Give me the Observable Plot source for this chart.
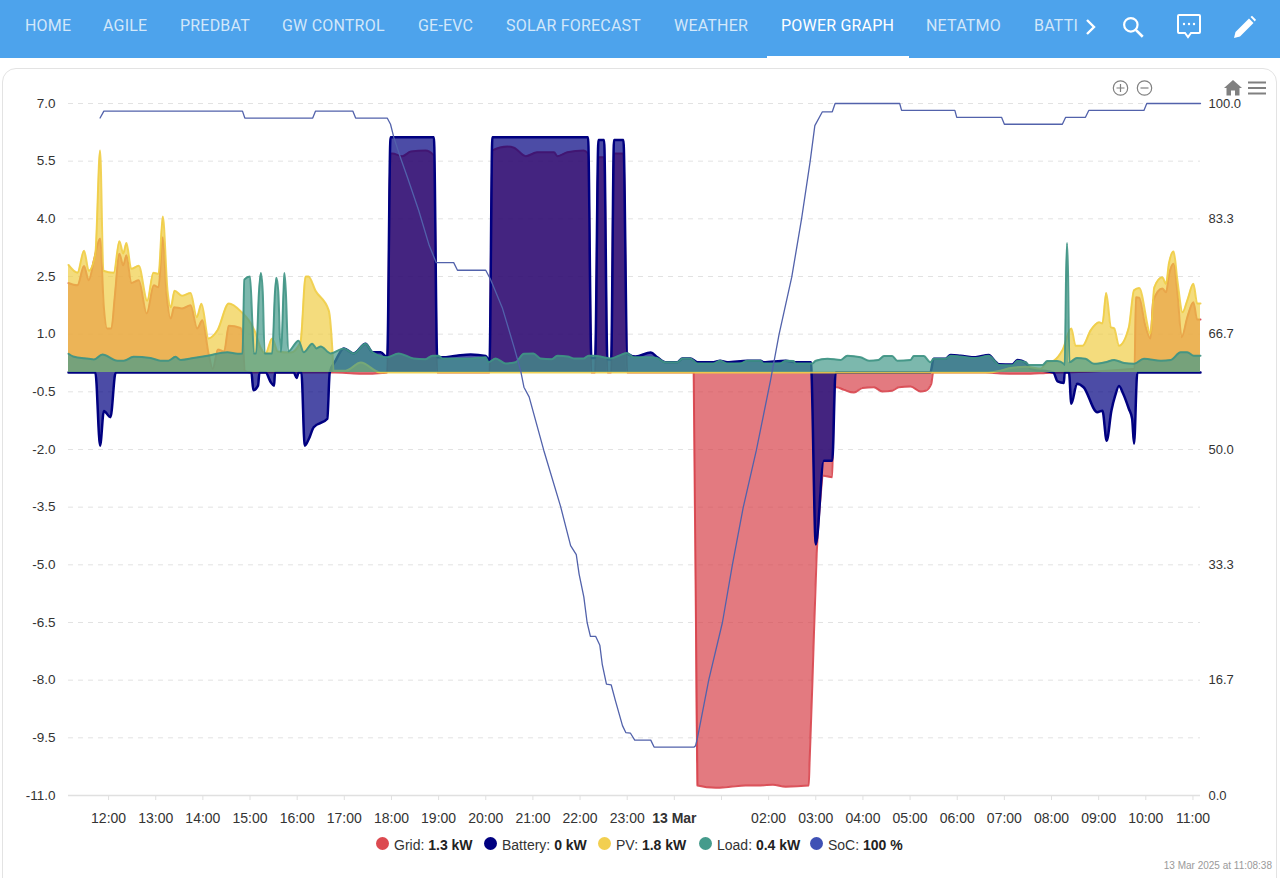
<!DOCTYPE html>
<html><head><meta charset="utf-8">
<script src="https://cdn.jsdelivr.net/npm/d3@7"></script>
<script src="https://cdn.jsdelivr.net/npm/@observablehq/plot@0.6"></script>
<style>
html,body{margin:0;padding:0;background:#fff;width:1280px;height:878px;overflow:hidden;font-family:"Liberation Sans",Arial,sans-serif}
#nav{position:absolute;left:0;top:0;width:1280px;height:58px;background:#4da3ec;overflow:hidden}
#tabs{position:absolute;left:0;top:0;width:1080px;height:58px;overflow:hidden}
#tabs span{position:absolute;top:16px;font:400 16px/20px Roboto,sans-serif;color:rgba(255,255,255,.75);white-space:nowrap;letter-spacing:.2px}
#tabs span.on{color:#fff}
#under{position:absolute;left:767px;top:56px;width:142px;height:2px;background:#fff}
#card{position:absolute;left:2px;top:68px;width:1275px;height:830px;border:1px solid #e3e3e3;border-radius:14px;box-sizing:border-box}
#chart{position:absolute;left:0;top:68px}
#chart svg{display:block;background:transparent}
#legend{position:absolute;left:376px;top:836px;height:18px;font:14px/18px "Liberation Sans",Arial,sans-serif;color:#333;white-space:nowrap}
#legend span.i{position:absolute;top:0;white-space:nowrap}
#legend i{position:absolute;top:1px;width:13px;height:13px;border-radius:50%;display:block}
#legend b{color:#222}
#stamp{position:absolute;right:8px;top:860px;font:10px "Liberation Sans",Arial,sans-serif;color:#9a9a9a}
.ic{position:absolute;overflow:visible}
</style></head><body>
<div id="card"></div>
<div id="chart"></div>
<div id="nav">
<div id="tabs"></div><div id="under"></div>
<svg class="ic" style="left:1085px;top:17px" width="12" height="20" viewBox="0 0 12 20"><path d="M2 3l7 7-7 7" fill="none" stroke="#fff" stroke-width="2.4"/></svg>
<svg class="ic" style="left:1120px;top:14px" width="26" height="26" viewBox="0 0 24 24"><circle cx="10" cy="10" r="6.2" fill="none" stroke="#fff" stroke-width="2"/><path d="M14.6 14.6L21 21" stroke="#fff" stroke-width="2.4"/></svg>
<svg class="ic" style="left:1176px;top:13px" width="26" height="26" viewBox="0 0 26 26"><path d="M3 2h20a1 1 0 0 1 1 1v16a1 1 0 0 1-1 1H15l-3 4-3-4H3a1 1 0 0 1-1-1V3a1 1 0 0 1 1-1z" fill="none" stroke="#fff" stroke-width="2"/><circle cx="8" cy="11" r="1.2" fill="#fff"/><circle cx="13" cy="11" r="1.2" fill="#fff"/><circle cx="18" cy="11" r="1.2" fill="#fff"/></svg>
<svg class="ic" style="left:1233px;top:15px" width="24" height="24" viewBox="0 0 24 24"><path d="M1 23l1.5-6L16 3.5l4.5 4.5L7 21.5z" fill="#fff"/><path d="M17.5 2l1.5-1.2 4 4L21.8 6.500z" fill="#fff"/></svg>
</div>
<svg class="ic" style="left:1112px;top:80px" width="40" height="16" viewBox="0 0 40 16"><g fill="none" stroke="#808080" stroke-width="1.2"><circle cx="8.500" cy="8" r="7.200"/><path d="M4.500 8h8M8.500 4v8"/><circle cx="32.500" cy="8" r="7.200"/><path d="M28.500 8h8"/></g></svg>
<svg class="ic" style="left:1224px;top:80px" width="44" height="16" viewBox="0 0 44 16"><path d="M0 8L9 0l9 8h-2.500v7.500h-4.500V10.500H7V15.500H2.500V8z" fill="#808080"/><path d="M24 2.500h18M24 8h18M24 13.500h18" stroke="#808080" stroke-width="2"/></svg>
<div id="legend"></div>
<div id="stamp">13 Mar 2025 at 11:08:38</div>
<script>
// hours counted from 00:00 on 12 March 2025, value in kW
const gridPoints=[[11.15,2.33],[11.34,2.27],[11.48,2.77],[11.58,2.4],[11.69,2.92],[11.82,3.49],[11.9,1.7],[11.97,1.15],[12.06,1.15],[12.13,1.96],[12.23,3.09],[12.31,2.79],[12.38,3.05],[12.48,2.33],[12.64,2.4],[12.81,1.54],[12.96,2.27],[13.06,2.22],[13.15,3.52],[13.23,2.05],[13.32,1.41],[13.39,1.7],[13.56,1.67],[13.74,1.75],[13.88,1.15],[13.99,1.36],[14.12,.5],[14.21,.1],[14.32,.6],[14.45,.55],[14.55,1.22],[14.8,1.16],[14.84,1],[14.89,.05],[15,0],[16.8,0],[17.2,-.02],[17.6,-.03],[17.8,-.01],[17.91,0],[17.98,5.7],[18.02,5.7],[18.23,5.63],[18.41,5.75],[18.72,5.78],[18.9,5.65],[18.97,0],[20.08,0],[20.14,5.78],[20.46,5.88],[20.6,5.85],[20.85,5.63],[21.09,5.73],[21.45,5.73],[21.52,5.63],[21.73,5.73],[22.08,5.78],[22.17,5.7],[22.24,0],[22.32,0],[22.39,5.6],[22.51,5.6],[22.58,0],[22.66,0],[22.72,5.7],[22.92,5.7],[23,0],[24.41,0],[24.49,-10.74],[24.88,-10.8],[25.19,-10.77],[25.51,-10.74],[25.83,-10.74],[26.09,-10.72],[26.36,-10.77],[26.85,-10.74],[26.87,-10.1],[26.93,-8],[27.02,-4.7],[27.09,-3.4],[27.16,-2.68],[27.35,-2.72],[27.39,-.38],[27.44,-.38],[27.6,-.45],[27.81,-.52],[27.99,-.4],[28.23,-.38],[28.41,-.49],[28.62,-.47],[28.76,-.38],[29.01,-.36],[29.22,-.49],[29.33,-.47],[29.45,-.29],[29.49,0],[30.6,0],[30.92,-.02],[31.56,-.03],[31.88,-.01],[32.19,0],[33.76,.1],[33.79,1.96],[33.86,1.95],[33.98,1.27],[34.1,.89],[34.16,1.88],[34.35,2.19],[34.43,2.09],[34.49,2.53],[34.59,2.83],[34.67,2.09],[34.76,.92],[34.88,1.44],[35.01,1.83],[35.09,1.38],[35.16,1.38]];
const batteryPoints=[[11.15,0],[11.72,0],[11.82,-1.9],[11.9,-1],[12.04,-1.16],[12.15,0],[15.03,0],[15.07,-.46],[15.17,-.34],[15.2,0],[15.33,0],[15.44,-.25],[15.51,-.34],[15.53,0],[15.93,0],[15.99,-.14],[16.03,0],[16.09,0],[16.16,-1.9],[16.25,-1.72],[16.35,-1.42],[16.64,-1.2],[16.69,0],[16.81,.3],[16.99,.63],[17.2,.5],[17.45,.75],[17.6,.53],[17.77,.53],[17.91,.4],[17.98,6.12],[18.9,6.12],[18.97,.4],[19.08,.4],[19.38,.44],[19.68,.47],[20,.43],[20.08,.3],[20.14,6.12],[22.17,6.12],[22.24,.38],[22.32,.38],[22.39,6.05],[22.51,6.05],[22.58,.35],[22.66,.35],[22.72,6.05],[22.92,6.05],[23,.5],[23.18,.42],[23.5,.52],[23.64,.4],[23.81,.27],[24.06,.27],[24.17,.37],[24.34,.37],[24.49,.27],[24.83,.27],[24.97,.31],[25.12,.27],[25.55,.31],[25.83,.31],[25.89,.27],[26.36,.31],[26.57,.27],[26.9,.27],[26.91,0],[27,-4.47],[27.17,-2.29],[27.35,-2.29],[27.42,0],[29.43,0],[29.5,.36],[29.75,.36],[29.86,.46],[30.07,.44],[30.39,.4],[30.67,.46],[30.8,.3],[30.88,.22],[31.17,.21],[31.28,.33],[31.45,.26],[31.56,.1],[32.04,0],[32.13,-.23],[32.26,-.27],[32.28,0],[32.37,0],[32.42,-.81],[32.54,-.29],[32.68,-.38],[32.97,-1.03],[33.08,-.99],[33.17,-1.77],[33.27,-.99],[33.35,-.6],[33.43,-.35],[33.52,-.55],[33.64,-.94],[33.71,-1.2],[33.75,-1.85],[33.82,0],[35.16,0]];
const pvPoints=[[11.15,2.8],[11.34,2.6],[11.48,3.17],[11.58,2.65],[11.72,3.1],[11.82,5.78],[11.89,2.65],[12.11,2.6],[12.23,3.42],[12.31,3.1],[12.38,3.37],[12.48,2.7],[12.64,2.78],[12.82,1.87],[12.95,2.6],[13.06,2.57],[13.15,4.06],[13.25,2.13],[13.32,1.7],[13.4,2.13],[13.56,2],[13.74,2.07],[13.87,1.44],[13.97,1.79],[14.12,.89],[14.31,1.1],[14.55,1.8],[14.8,1.6],[15.12,1.02],[15.22,.66],[15.33,.5],[15.47,.89],[15.59,.55],[15.86,.52],[16.07,.79],[16.18,2.5],[16.24,2.5],[16.39,2.13],[16.67,1.62],[16.75,.52],[16.77,.05],[17.03,.05],[17.35,.26],[17.77,0],[30.6,0],[30.92,.05],[31.13,.12],[31.47,.15],[31.77,.1],[31.89,.25],[32.05,.31],[32.23,.58],[32.42,1.15],[32.51,.7],[32.66,.7],[32.83,1.1],[33.01,1.31],[33.08,1.28],[33.16,2.07],[33.26,1.18],[33.33,1.15],[33.43,.7],[33.64,1.18],[33.75,2.14],[33.86,2.2],[34.1,1.02],[34.18,2.22],[34.35,2.48],[34.43,2.31],[34.49,2.84],[34.59,3.15],[34.67,2.4],[34.78,1.57],[34.88,1.88],[35.01,2.31],[35.09,1.8],[35.16,1.8]];
const loadPoints=[[11.15,.49],[11.25,.42],[11.58,.36],[11.69,.34],[11.87,.47],[12.19,.31],[12.32,.31],[12.53,.41],[12.89,.38],[13.1,.31],[13.27,.31],[13.42,.41],[13.53,.33],[13.8,.38],[14.1,.44],[14.52,.53],[14.74,.49],[14.84,.5],[14.88,2.42],[15,2.5],[15.05,1.28],[15.08,.5],[15.13,.5],[15.19,2.1],[15.23,2.59],[15.27,2.1],[15.31,.5],[15.47,.5],[15.53,2.1],[15.56,2.47],[15.6,2.1],[15.65,.55],[15.66,.55],[15.71,2.1],[15.73,2.59],[15.76,2.1],[15.81,.55],[16.03,.83],[16.14,.53],[16.32,.75],[16.41,.63],[16.5,.68],[16.71,.5],[16.99,.63],[17.2,.5],[17.45,.75],[17.6,.53],[17.91,.4],[18.15,.5],[18.47,.37],[18.72,.35],[18.87,.44],[19,.44],[19.08,.37],[19.68,.37],[20,.4],[20.06,.27],[20.21,.37],[20.42,.24],[20.63,.27],[20.81,.49],[21.01,.5],[21.16,.37],[21.4,.35],[21.52,.44],[21.74,.42],[21.87,.37],[22.08,.37],[22.18,.44],[22.31,.44],[22.5,.4],[22.65,.37],[22.82,.44],[22.99,.51],[23.14,.4],[23.5,.4],[23.63,.38],[23.81,.27],[24.06,.27],[24.17,.37],[24.34,.37],[24.49,.24],[24.83,.24],[24.97,.31],[25.12,.24],[25.4,.24],[25.55,.31],[25.83,.31],[25.89,.24],[26.25,.24],[26.36,.31],[26.53,.3],[26.57,.24],[26.93,.24],[27,.31],[27.25,.36],[27.53,.33],[27.67,.44],[27.95,.4],[28.13,.31],[28.33,.33],[28.45,.43],[28.62,.43],[28.73,.31],[29.01,.33],[29.08,.43],[29.29,.43],[29.43,.27],[29.5,.36],[29.75,.36],[29.86,.44],[30.07,.42],[30.39,.38],[30.67,.44],[30.8,.3],[30.88,.2],[31.17,.19],[31.28,.31],[31.45,.27],[31.52,.2],[31.81,.2],[31.91,.3],[32.12,.3],[32.26,.23],[32.28,.2],[32.31,2.6],[32.33,3.37],[32.35,2.6],[32.38,.27],[32.54,.38],[32.72,.36],[32.9,.23],[33.14,.27],[33.33,.33],[33.54,.25],[33.75,.23],[33.96,.36],[34.32,.31],[34.53,.33],[34.74,.53],[34.88,.53],[35.02,.44],[35.16,.44]];
// state of charge in percent
const socPoints=[[11.82,97.9],[11.9,98.9],[14.84,98.9],[14.89,97.9],[16.33,97.9],[16.39,98.9],[17.18,98.9],[17.24,97.9],[17.91,97.9],[17.98,97],[18.05,95.1],[18.19,92.2],[18.34,89.3],[18.58,84.5],[18.8,79.5],[18.95,77],[19.32,77],[19.4,75.9],[20,75.9],[20.1,74.6],[20.35,70.5],[20.6,64.8],[20.74,61.4],[20.81,59],[20.92,57.6],[21.23,49.9],[21.59,41.7],[21.8,36.1],[21.92,34.8],[21.98,32],[22.08,28.7],[22.15,25],[22.22,23],[22.33,23],[22.42,21.7],[22.47,19],[22.56,16.1],[22.66,16],[22.75,13.7],[22.9,10.1],[22.97,9.1],[23.07,9],[23.16,8],[23.5,8],[23.57,7],[24.42,7],[24.45,7.2],[24.49,8.3],[24.73,16.7],[25.02,25],[25.23,33.3],[25.46,41.6],[25.74,49.9],[26.04,60],[26.22,66.6],[26.49,74.9],[26.7,83.4],[26.88,91.6],[26.98,96.8],[27.14,98.8],[27.35,98.8],[27.41,100],[28.78,100],[28.82,99],[29.95,99],[29.99,98],[30.94,98],[31,97],[32.23,97],[32.3,98],[32.72,98],[32.79,99],[33.96,99],[34.02,100],[35.16,100]];
const kwTicks=[7,5.5,4,2.5,1,-.5,-2,-3.5,-5,-6.5,-8,-9.5,-11];
const socTicks=[100,83.3,66.7,50,33.3,16.7,0];
const hourTicks=[12,13,14,15,16,17,18,19,20,21,22,23,24,25,26,27,28,29,30,31,32,33,34,35];
const hourLabels=["12:00","13:00","14:00","15:00","16:00","17:00","18:00","19:00","20:00","21:00","22:00","23:00","13 Mar","","02:00","03:00","04:00","05:00","06:00","07:00","08:00","09:00","10:00","11:00"];
const tabNames=["HOME","AGILE","PREDBAT","GW CONTROL","GE-EVC","SOLAR FORECAST","WEATHER","POWER GRAPH","NETATMO","BATTI"];
const tabLefts=[25,103,180,282,418,506,674,781,926,1034];
const legendItems=[["Grid","1.3 kW","#dc4a50"],["Battery","0 kW","#000080"],["PV","1.8 kW","#f2cf50"],["Load","0.4 kW","#459b8c"],["SoC","100 %","#3f51b5"]];
const legendLefts=[0,108,222,323,434];

const start=new Date(2025,2,12).getTime();
const toDate=h=>new Date(start+h*3600e3);
const rows=a=>a.map(([h,v])=>({t:toDate(h),v}));
const socToKw=s=>-11+s*18/100;
const kwToSoc=k=>(k+11)/18*100;

const series=[
 [gridPoints,"#d7414a","#d7414a",2,.9],
 [batteryPoints,"#000080","#000080",2.5,1],
 [pvPoints,"#f0cd46","#f0cd46",2,.9],
 [loadPoints,"#449a8a","#3f9384",2,.9]
];
const marks=[
 Plot.ruleY(kwTicks,{stroke:"#e2e2e2",strokeDasharray:"5 5",strokeWidth:1}),
 Plot.ruleY([-11],{stroke:"#e0e0e0",strokeWidth:1.500}),
];
for(const [pts,fill,stroke,sw,so] of series){
 const d=rows(pts);
 marks.push(Plot.areaY(d,{x:"t",y1:0,y2:"v",fill,fillOpacity:.7,curve:"monotone-x"}));
 marks.push(Plot.lineY(d,{x:"t",y:"v",stroke,strokeWidth:sw,strokeOpacity:so,curve:"monotone-x"}));
}
marks.push(Plot.lineY(socPoints.map(([h,s])=>({t:toDate(h),v:socToKw(s)})),{x:"t",y:"v",stroke:"#5262ab",strokeWidth:1.300,curve:"linear"}));
marks.push(Plot.axisY({anchor:"left",ticks:kwTicks,tickSize:0,tickPadding:13,tickFormat:d=>d.toFixed(1),label:null,fontSize:13.500,stroke:"none"}));
marks.push(Plot.axisY({anchor:"right",ticks:socTicks.map(socToKw),tickSize:0,tickPadding:8,tickFormat:d=>Math.abs(kwToSoc(d)).toFixed(1),label:null,fontSize:13,stroke:"none"}));
marks.push(Plot.axisX({ticks:hourTicks.map(toDate),tickSize:5,tickPadding:13,fontSize:14,stroke:"#e0e0e0",tickFormat:d=>hourLabels[hourTicks.indexOf((d.getTime()-start)/3600e3)],label:null}));

const svg=Plot.plot({
 width:1280,height:780,marginTop:35,marginBottom:53,marginLeft:68,marginRight:80,
 style:{fontFamily:'"Liberation Sans",Arial,sans-serif',fontSize:"13px",color:"#333",background:"transparent"},
 x:{type:"time",domain:[toDate(11.15),toDate(35.16)]},
 y:{domain:[-11,7],ticks:kwTicks},
 marks
});
document.getElementById("chart").append(svg);
svg.querySelectorAll("text").forEach(t=>{ if(t.textContent==="13 Mar") t.setAttribute("font-weight","bold"); });

const tabs=document.getElementById("tabs");
tabNames.forEach((n,i)=>{const s=document.createElement("span");s.textContent=n;s.style.left=tabLefts[i]+"px";if(n==="POWER GRAPH")s.className="on";tabs.append(s);});
const lg=document.getElementById("legend");
legendItems.forEach(([n,v,c],i)=>{
 const d=document.createElement("span");d.className="i";d.style.left=legendLefts[i]+"px";
 d.innerHTML=`<i style="background:${c}"></i><span style="margin-left:18px">${n}: <b>${v}</b></span>`;
 lg.append(d);
});
</script>
</body></html>
